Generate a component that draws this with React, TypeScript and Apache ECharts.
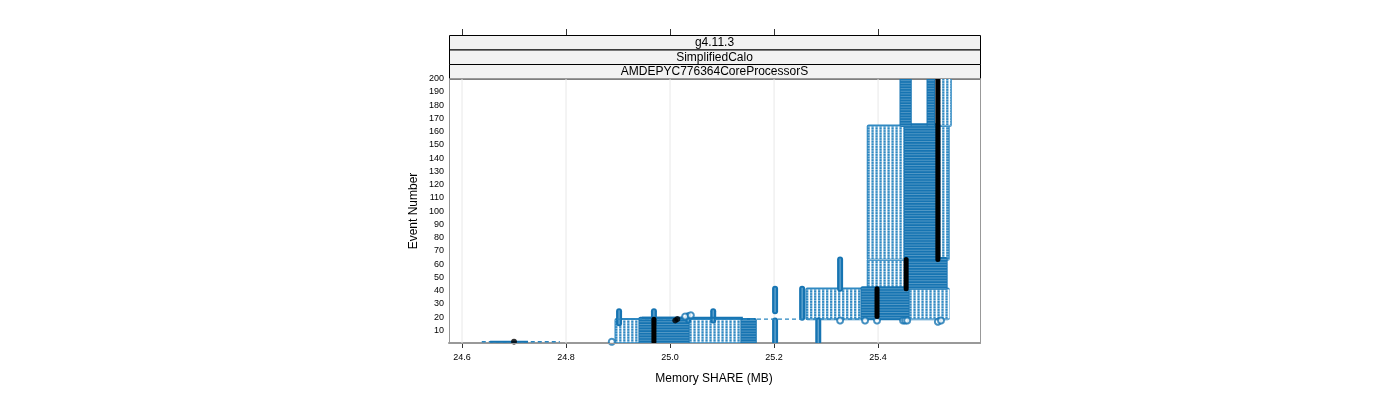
import React, { useEffect, useRef } from "react";
import * as echarts from "echarts";

// ---- data ----
const xTicks = [24.6, 24.8, 25.0, 25.2, 25.4];
const stripLabels = ["g4.11.3", "SimplifiedCalo", "AMDEPYC776364CoreProcessorS"];

// [xFrom, xTo, eventFrom, eventTo] — sparse (striped) clusters of runs
const stripedBands = [
  [24.898, 24.944, 1, 17],
  [25.033, 25.14, 1, 17],
  [25.265, 25.371, 19, 40],
  [25.456, 25.533, 19, 40],
  [25.383, 25.452, 42, 62],
  [25.383, 25.452, 64, 163],
  [25.519, 25.533, 64, 163],
  [25.519, 25.537, 165, 200],
];
// [xFrom, xTo, eventFrom, eventTo] — dense clusters of runs
const denseBands = [
  [24.944, 25.033, 1, 18],
  [25.14, 25.162, 1, 17],
  [25.371, 25.456, 19, 41],
  [25.46, 25.529, 42, 63],
  [25.454, 25.515, 64, 164],
  [25.446, 25.46, 165, 200],
  [25.498, 25.505, 165, 200],
];
// [x, eventFrom, eventTo] — single-run vertical stacks
const columns = [
  [24.902, 15, 24],
  [24.969, 15, 24],
  [25.035, 17, 21],
  [25.083, 17, 24],
  [25.202, 1, 17],
  [25.202, 24, 41],
  [25.254, 19, 41],
  [25.285, 1, 17],
  [25.327, 41, 63],
];
// [xFrom, xTo, event]
const dashedLines = [
  [24.638, 24.788, 1],
  [24.898, 25.383, 18],
];
const solidLines = [
  [24.654, 24.727, 1],
  [24.946, 25.14, 19],
];
// [x, event]
const looseCircles = [
  [24.888, 1],
  [25.029, 20],
  [25.04, 21],
  [25.327, 17],
  [25.375, 17],
  [25.398, 17],
  [25.448, 17],
  [25.452, 17],
  [25.456, 17],
  [25.515, 16],
  [25.521, 17],
];
// median: [x, eventFrom, eventTo]
const medianBars = [
  [24.969, 1, 18],
  [25.398, 20, 41],
  [25.454, 41, 63],
  [25.515, 63, 200],
];
const medianDots = [
  [24.7, 1],
  [25.01, 17],
  [25.014, 18],
];

const BLUE = "#1674b2";
const FONT = "Liberation Sans, Arial, sans-serif";

function bandRenderer(striped: boolean) {
  return (_p: any, api: any) => {
    const x0 = api.value(0), x1 = api.value(1), e0 = api.value(2), e1 = api.value(3);
    const a = api.coord([x0, e1]);
    const b = api.coord([x1, e0]);
    const left = a[0] - 2.5, right = b[0] + 2.5, top = a[1] - 2.5, bottom = b[1] + 2.5;
    const w = right - left, h = bottom - top;
    const children: any[] = [
      { type: "rect", shape: { x: left, y: top, width: w, height: h, r: 2 }, style: { fill: striped ? "#3089c2" : BLUE } },
    ];
    if (striped) {
      for (let x = left + 3; x < right - 1.5; x += 4) {
        children.push({ type: "rect", shape: { x, y: top + 2, width: 1.7, height: h - 4 }, style: { fill: "#ffffff", opacity: 1 } });
      }
    }
    for (let y = top + 2; y < bottom - 1; y += 2.65) {
      children.push({ type: "rect", shape: { x: left + 1, y, width: w - 2, height: 1 }, style: { fill: "#ffffff", opacity: striped ? 0.45 : 0.25 } });
    }
    return { type: "group", children };
  };
}

function columnRenderer(_p: any, api: any) {
  const x = api.value(0), e0 = api.value(1), e1 = api.value(2);
  const a = api.coord([x, e1]);
  const b = api.coord([x, e0]);
  const h = b[1] - a[1] + 6;
  return {
    type: "group",
    children: [
      { type: "rect", shape: { x: a[0] - 3, y: a[1] - 3, width: 6, height: h, r: 3 }, style: { fill: BLUE } },
      { type: "rect", shape: { x: a[0] - 0.6, y: a[1] - 1, width: 1.2, height: h - 4 }, style: { fill: "#a9d0ea", opacity: 0.6 } },
    ],
  };
}

function hLineRenderer(dashed: boolean) {
  return (_p: any, api: any) => {
    const a = api.coord([api.value(0), api.value(2)]);
    const b = api.coord([api.value(1), api.value(2)]);
    return {
      type: "line",
      shape: { x1: a[0], y1: a[1], x2: b[0], y2: b[1] },
      style: dashed
        ? { stroke: "#2a86c0", lineWidth: 1.4, lineDash: [4, 3] }
        : { stroke: BLUE, lineWidth: 2 },
    };
  };
}

function medianRenderer(_p: any, api: any) {
  const a = api.coord([api.value(0), api.value(2)]);
  const b = api.coord([api.value(0), api.value(1)]);
  return {
    type: "line",
    shape: { x1: a[0], y1: a[1], x2: b[0], y2: b[1] },
    style: { stroke: "#000", lineWidth: 5, lineCap: "round" },
  };
}

function gridRenderer(_p: any, api: any) {
  const a = api.coord([api.value(0), 0]);
  const b = api.coord([api.value(0), 200]);
  return { type: "line", shape: { x1: a[0], y1: a[1], x2: b[0], y2: b[1] }, style: { stroke: "#e8e8e8", lineWidth: 1 } };
}

const L = 449, T = 78, W = 531, H = 265;

const option: any = {
  animation: false,
  textStyle: { fontFamily: FONT },
  grid: { left: L, top: T, width: W, height: H, containLabel: false },
  xAxis: [
    {
      type: "value",
      min: 24.575,
      max: 25.596,
      position: "bottom",
      axisLine: { show: true, lineStyle: { color: "#999", width: 2 } },
      axisTick: { show: true, length: 5, customValues: xTicks, lineStyle: { color: "#333" } },
      axisLabel: { show: true, customValues: xTicks, fontSize: 9, color: "#000", margin: 9, formatter: (v: number) => v.toFixed(1) },
      splitLine: { show: false },
    },
    {
      type: "value",
      min: 24.575,
      max: 25.596,
      position: "top",
      offset: 43,
      axisLine: { show: false },
      axisTick: { show: true, length: 6, customValues: xTicks, lineStyle: { color: "#333" } },
      axisLabel: { show: false },
      splitLine: { show: false },
    },
  ],
  yAxis: {
    type: "value",
    min: 0,
    max: 200,
    interval: 10,
    axisLine: { show: false },
    axisTick: { show: false },
    splitLine: { show: false },
    axisLabel: { fontSize: 9, color: "#000", margin: 5, formatter: (v: number) => (v === 0 ? "" : String(v)) },
  },
  series: [
    { type: "custom", renderItem: gridRenderer, data: xTicks.map((v) => [v]), z: 1, silent: true, clip: true },
    { type: "custom", renderItem: bandRenderer(true), data: stripedBands, z: 2, clip: true },
    { type: "custom", renderItem: bandRenderer(false), data: denseBands, z: 3, clip: true },
    { type: "custom", renderItem: columnRenderer, data: columns, z: 4, clip: true },
    { type: "custom", renderItem: hLineRenderer(true), data: dashedLines, z: 5, clip: true },
    { type: "custom", renderItem: hLineRenderer(false), data: solidLines, z: 5, clip: true },
    {
      type: "scatter",
      data: looseCircles,
      symbol: "emptyCircle",
      symbolSize: 6,
      itemStyle: { color: BLUE, borderColor: BLUE, borderWidth: 1 },
      z: 6,
      clip: true,
    },
    { type: "custom", renderItem: medianRenderer, data: medianBars, z: 7, clip: true },
    { type: "scatter", data: medianDots, symbol: "circle", symbolSize: 6, itemStyle: { color: "#000" }, z: 7, clip: true },
  ],
  graphic: [
    ...stripLabels.map((s, i) => ({
      type: "group",
      children: [
        {
          type: "rect",
          shape: { x: L + 0.5, y: 35.5 + i * 14.5, width: W, height: 14.5 },
          style: { fill: "#f2f2f2", stroke: "#000", lineWidth: 1 },
        },
        {
          type: "text",
          x: L + W / 2,
          y: 42 + i * 14.5,
          style: { text: s, fontSize: 12, fontFamily: FONT, fill: "#000", textAlign: "center", textVerticalAlign: "middle" },
        },
      ],
    })),
    {
      type: "rect",
      shape: { x: L + 0.5, y: T + 0.5, width: W, height: H },
      style: { fill: "none", stroke: "#999", lineWidth: 1 },
      z: 100,
      silent: true,
    },
    {
      type: "text",
      x: 714,
      y: 378,
      style: { text: "Memory SHARE (MB)", fontSize: 12, fontFamily: FONT, fill: "#000", textAlign: "center", textVerticalAlign: "middle" },
    },
    {
      type: "text",
      x: 413,
      y: 211,
      rotation: Math.PI / 2,
      style: { text: "Event Number", fontSize: 12, fontFamily: FONT, fill: "#000", textAlign: "center", textVerticalAlign: "middle" },
    },
  ],
};

export default function App() {
  const ref = useRef<HTMLDivElement>(null);
  useEffect(() => {
    const chart = echarts.init(ref.current!, null, { renderer: "svg" });
    chart.setOption(option);
    return () => chart.dispose();
  }, []);
  return <div ref={ref} style={{ position: "fixed", left: 0, top: 0, width: 1400, height: 400 }} />;
}
